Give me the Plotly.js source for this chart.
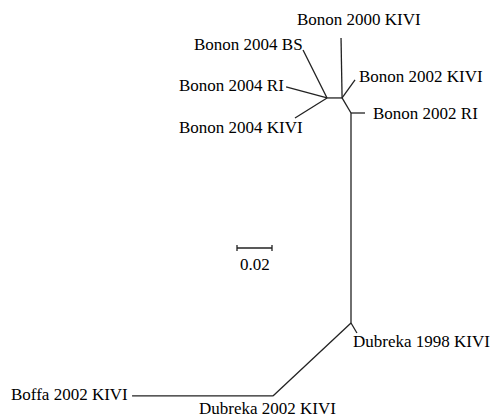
<!DOCTYPE html>
<html>
<head>
<meta charset="utf-8">
<script src="https://cdn.plot.ly/plotly-3.0.1.min.js"></script>
<style>html,body{margin:0;padding:0;background:#fff;}#chart{width:494px;height:418px;}</style>
</head>
<body>
<div id="chart"></div>
<script>
// Tree nodes (unrooted tree, coordinates in substitutions/site)
const nodeNames = ["C","RI2002","B","A","BS2004","RI2004","KIVI2004","KIVI2000","KIVI2002","D","Dub1998","E","Boffa2002"];
const nodeX = [0, 0.0080, -0.0051, -0.0137, -0.0274, -0.0371, -0.0320, -0.0057, 0.0023, 0, 0.0034, -0.0446, -0.1251];
const nodeY = [0, 0, 0.0086, 0.0086, 0.0360, 0.0149, -0.0029, 0.0429, 0.0189, -0.1200, -0.1257, -0.1617, -0.1617];
// Edges (parent -> child)
const edgeFrom = ["C","C","B","B","B","A","A","A","C","D","D","E"];
const edgeTo   = ["RI2002","B","KIVI2000","KIVI2002","A","BS2004","RI2004","KIVI2004","D","Dub1998","E","Boffa2002"];
// Leaf labels
const labelNode = ["KIVI2000","BS2004","RI2004","KIVI2004","KIVI2002","RI2002","Dub1998","Boffa2002","E"];
const labelText = ["Bonon 2000 KIVI","Bonon 2004 BS","Bonon 2004 RI","Bonon 2004 KIVI","Bonon 2002 KIVI","Bonon 2002 RI","Dubreka 1998 KIVI","Boffa 2002 KIVI","Dubreka 2002 KIVI"];
// Scale bar
const scaleLength = 0.02;
const scaleLabel = "0.02";

const idx = n => nodeNames.indexOf(n);
const lx = [], ly = [];
edgeFrom.forEach((f, i) => {
  const a = idx(f), b = idx(edgeTo[i]);
  lx.push(nodeX[a], nodeX[b], null);
  ly.push(nodeY[a], nodeY[b], null);
});

// label placement (layout only)
const place = {
  "KIVI2000":  {xa:"center", xs:18, ys:18},
  "BS2004":    {xa:"right", xs:1, ys:6},
  "RI2004":    {xa:"right", xs:-1, ys:1},
  "KIVI2004":  {xa:"right", xs:9, ys:-9},
  "KIVI2002":  {xa:"left", xs:3, ys:3},
  "RI2002":    {xa:"left", xs:7, ys:0},
  "Dub1998":   {xa:"left", xs:-5, ys:-9},
  "Boffa2002": {xa:"right", xs:-3, ys:1},
  "E":         {xa:"center", xs:-5, ys:-13}
};
const font = {family:"Liberation Serif, Times New Roman, serif", size:17, color:"#000"};
const annotations = labelNode.map((n, i) => {
  const p = place[n];
  return {x:nodeX[idx(n)], y:nodeY[idx(n)], xref:"x", yref:"y", text:labelText[i],
    showarrow:false, xanchor:p.xa, yanchor:"middle", xshift:p.xs, yshift:p.ys, font:font, borderpad:0};
});

const sbX0 = -0.06514, sbY = -0.07714;
const sbTick = 0.0017;
annotations.push({x:sbX0 + scaleLength/2, y:sbY, xref:"x", yref:"y", text:scaleLabel, showarrow:false,
  xanchor:"center", yanchor:"middle", yshift:-17, font:font, borderpad:0});

const traces = [
  {type:"scatter", mode:"lines", x:lx, y:ly, line:{color:"#222", width:1.3}, hoverinfo:"skip"},
  {type:"scatter", mode:"lines",
   x:[sbX0, sbX0+scaleLength, null, sbX0, sbX0, null, sbX0+scaleLength, sbX0+scaleLength],
   y:[sbY, sbY, null, sbY-sbTick, sbY+sbTick, null, sbY-sbTick, sbY+sbTick],
   line:{color:"#222", width:1.3}, hoverinfo:"skip"}
];

const layout = {
  width:494, height:418,
  margin:{l:0, r:0, t:0, b:0},
  paper_bgcolor:"#fff", plot_bgcolor:"#fff",
  showlegend:false,
  xaxis:{range:[-0.200571, 0.081714], visible:false, fixedrange:true},
  yaxis:{range:[-0.174286, 0.064571], visible:false, fixedrange:true},
  annotations:annotations
};
Plotly.newPlot("chart", traces, layout, {staticPlot:true, displayModeBar:false});
</script>
</body>
</html>
